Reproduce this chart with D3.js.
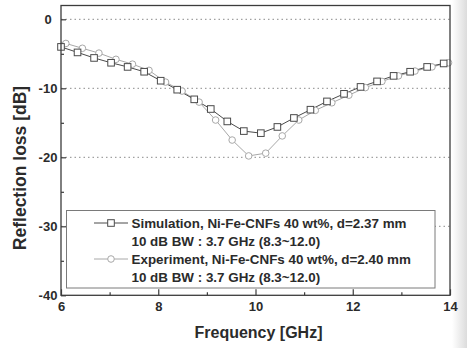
<!DOCTYPE html>
<html><head><meta charset="utf-8">
<script src="https://cdn.jsdelivr.net/npm/d3@7"></script>
<style>
html,body{margin:0;padding:0;background:#fff;}
svg{display:block;font-family:"Liberation Sans",Arial,sans-serif;}
</style></head>
<body>
<svg id="c" width="467" height="348"></svg>
<script>
// ---- data ----
const simFreq = [6.00,6.34,6.68,7.03,7.37,7.71,8.05,8.39,8.74,9.08,9.42,9.76,10.11,10.45,10.79,11.13,11.47,11.82,12.16,12.50,12.84,13.18,13.53,13.87,14.00];
const simRL   = [-4.0,-4.8,-5.6,-6.3,-6.9,-7.6,-8.9,-10.2,-11.6,-13.0,-14.8,-16.2,-16.5,-15.6,-14.3,-13.1,-11.9,-10.8,-9.8,-9.0,-8.2,-7.6,-6.9,-6.4,-6.2];
const expFreq = [6.00,6.10,6.44,6.78,7.13,7.47,7.81,8.15,8.49,8.84,9.18,9.52,9.86,10.21,10.55,10.89,11.23,11.57,11.92,12.26,12.60,12.94,13.28,13.63,13.97,14.00];
const expRL   = [-3.3,-3.5,-4.2,-4.9,-5.8,-6.5,-7.4,-9.1,-10.4,-12.0,-14.6,-17.5,-19.8,-19.4,-16.9,-14.6,-13.2,-12.1,-11.0,-9.9,-9.0,-8.2,-7.5,-6.9,-6.3,-6.2];
const xMajor = [6,8,10,12,14];
const xMinor = [7,9,11,13];
const yMajor = [0,-10,-20,-30,-40];
const yMinor = [-5,-15,-25,-35];
const yGrid  = [0,-10,-20,-30];
const legendLines = [
  "Simulation, Ni-Fe-CNFs 40 wt%, d=2.37 mm",
  "10 dB BW : 3.7 GHz (8.3~12.0)",
  "Experiment, Ni-Fe-CNFs 40 wt%, d=2.40 mm",
  "10 dB BW : 3.7 GHz (8.3~12.0)"
];
const xTitle = "Frequency [GHz]";
const yTitle = "Reflection loss [dB]";

// ---- drawing ----
const svg = d3.select("#c");
const x = d3.scaleLinear().domain([6,14]).range([61,450]);
const y = d3.scaleLinear().domain([2,-40]).range([5.5,295.3]);
const textCol = "#2b2b2b", axisCol = "#3c3c3c";
const simCol = "#4a4a4a", expCol = "#a8a8a8";
const fmt = d => String(d);

// photo shading on right edge
const defs = svg.append("defs");
const g1 = defs.append("linearGradient").attr("id","edge").attr("x1","0").attr("x2","1");
g1.append("stop").attr("offset","0").attr("stop-color","#fff");
g1.append("stop").attr("offset","1").attr("stop-color","#dcdcdc");
svg.append("rect").attr("x",452).attr("y",0).attr("width",15).attr("height",348).attr("fill","url(#edge)");

// grid
svg.append("g").selectAll("line").data(yGrid).join("line")
  .attr("x1",x(6)).attr("x2",x(14)).attr("y1",d=>y(d)).attr("y2",d=>y(d))
  .attr("stroke","#8a8a8a").attr("stroke-width",1).attr("stroke-dasharray","1.5,3");

// curves
const line = d3.line().x((d)=>x(d[0])).y(d=>y(d[1]));
const simPts = simFreq.map((f,i)=>[f,simRL[i]]);
const expPts = expFreq.map((f,i)=>[f,expRL[i]]);
svg.append("path").attr("d",line(expPts)).attr("fill","none").attr("stroke",expCol).attr("stroke-width",1);
svg.append("path").attr("d",line(simPts)).attr("fill","none").attr("stroke",simCol).attr("stroke-width",1);
svg.append("g").selectAll("circle").data(expPts.slice(1,-1)).join("circle")
  .attr("cx",d=>x(d[0])).attr("cy",d=>y(d[1])).attr("r",3.3)
  .attr("fill","#fff").attr("stroke",expCol).attr("stroke-width",1);
svg.append("g").selectAll("rect").data(simPts.slice(0,-1)).join("rect")
  .attr("x",d=>x(d[0])-3.3).attr("y",d=>y(d[1])-3.3).attr("width",6.6).attr("height",6.6)
  .attr("fill","#fff").attr("stroke",simCol).attr("stroke-width",1);

// frame
svg.append("rect").attr("x",x(6)).attr("y",y(2)).attr("width",x(14)-x(6)).attr("height",y(-40)-y(2))
  .attr("fill","none").attr("stroke",axisCol).attr("stroke-width",1.3);

// axes
const ax = svg.append("g").attr("transform",`translate(0,${y(-40)})`)
  .call(d3.axisBottom(x).tickValues(xMajor).tickSizeInner(-6).tickSizeOuter(0).tickPadding(6.5).tickFormat(fmt));
const axm = svg.append("g").attr("transform",`translate(0,${y(-40)})`)
  .call(d3.axisBottom(x).tickValues(xMinor).tickSizeInner(-3).tickSizeOuter(0).tickFormat(""));
const ay = svg.append("g").attr("transform",`translate(${x(6)},0)`)
  .call(d3.axisLeft(y).tickValues(yMajor).tickSizeInner(-5).tickSizeOuter(0).tickFormat(fmt));
const aym = svg.append("g").attr("transform",`translate(${x(6)},0)`)
  .call(d3.axisLeft(y).tickValues(yMinor).tickSizeInner(-3).tickSizeOuter(0).tickFormat(""));
[ax,axm,ay,aym].forEach(g=>{
  g.select(".domain").remove();
  g.selectAll(".tick line").attr("stroke",axisCol).attr("stroke-width",1.2);
  g.selectAll("text").attr("fill",textCol).attr("font-size",13).attr("font-weight","bold")
    .attr("font-family","'Liberation Sans',Arial,sans-serif");
});
ay.selectAll("text").attr("text-anchor","middle").attr("x",-13);

// axis titles
svg.append("text").attr("x",258.5).attr("y",338).attr("text-anchor","middle")
  .attr("font-size",16).attr("font-weight","bold").attr("fill",textCol).text(xTitle);
svg.append("text").attr("transform","translate(26,168) rotate(-90)").attr("text-anchor","middle")
  .attr("font-size",17.5).attr("font-weight","bold").attr("fill",textCol).text(yTitle);

// legend
const lg = svg.append("g");
lg.append("rect").attr("x",66.5).attr("y",210.5).attr("width",368.5).attr("height",77.5)
  .attr("fill","#fff").attr("stroke","#7a7a7a").attr("stroke-width",1);
const base = [228,246,264,282];
lg.selectAll("text").data(legendLines).join("text")
  .attr("x",131.5).attr("y",(d,i)=>base[i]).attr("font-size",13.4).attr("font-weight","bold")
  .attr("fill",textCol).text(d=>d);
const sym = [{i:0,col:simCol,shape:"sq"},{i:2,col:expCol,shape:"ci"}];
sym.forEach(s=>{
  const yy = base[s.i]-5;
  lg.append("line").attr("x1",94).attr("x2",128).attr("y1",yy).attr("y2",yy).attr("stroke",s.col).attr("stroke-width",1);
  if(s.shape==="sq") lg.append("rect").attr("x",111-3.3).attr("y",yy-3.3).attr("width",6.6).attr("height",6.6)
      .attr("fill","#fff").attr("stroke",s.col);
  else lg.append("circle").attr("cx",111).attr("cy",yy).attr("r",3.3).attr("fill","#fff").attr("stroke",s.col);
});
</script>
</body></html>
